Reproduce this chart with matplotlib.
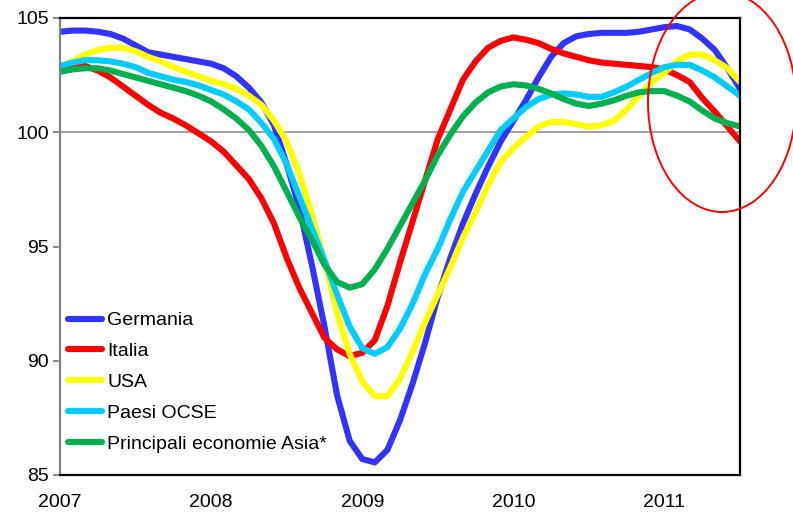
import numpy as np
import matplotlib
matplotlib.use('Agg')
from matplotlib import pyplot as plt
from matplotlib.patches import Ellipse

plt.rcParams['font.family'] = ['Liberation Sans', 'DejaVu Sans']

# monthly values, Jan 2007 - Jul 2011
germania = [104.4, 104.45, 104.45, 104.4, 104.3, 104.1, 103.8, 103.5, 103.4, 103.3,
            103.2, 103.1, 103.0, 102.8, 102.45, 101.95, 101.3, 100.3, 98.6, 96.7,
            94.2, 91.5, 88.5, 86.5, 85.7, 85.55, 86.1, 87.4, 89.0, 90.8,
            92.8, 94.5, 96.0, 97.3, 98.5, 99.6, 100.5, 101.4, 102.4, 103.3,
            103.9, 104.2, 104.3, 104.35, 104.35, 104.35, 104.4, 104.5, 104.6, 104.65,
            104.5, 104.1, 103.6, 102.8, 101.9]
italia = [102.8, 102.9, 102.9, 102.7, 102.4, 102.0, 101.6, 101.2, 100.85, 100.6,
          100.3, 99.95, 99.6, 99.15, 98.55, 97.95, 97.1, 96.0, 94.5, 93.2,
          92.1, 91.0, 90.5, 90.2, 90.35, 90.9, 92.4, 94.3, 96.1, 97.9,
          99.7, 101.0, 102.3, 103.1, 103.7, 104.0, 104.15, 104.05, 103.9, 103.65,
          103.45, 103.3, 103.15, 103.05, 103.0, 102.95, 102.9, 102.85, 102.75, 102.5,
          102.2, 101.5, 100.9, 100.25, 99.6]
usa = [102.9, 103.1, 103.4, 103.6, 103.7, 103.7, 103.55, 103.3, 103.1, 102.85,
       102.65, 102.45, 102.25, 102.1, 101.9, 101.6, 101.2, 100.5, 99.6, 98.2,
       96.4, 94.4, 92.1, 90.3, 89.1, 88.45, 88.45, 89.2, 90.4, 91.7,
       92.9, 94.1, 95.4, 96.5, 97.7, 98.7, 99.3, 99.8, 100.25, 100.45,
       100.45, 100.35, 100.25, 100.3, 100.5, 101.0, 101.6, 102.2, 102.6, 103.1,
       103.4, 103.4, 103.15, 102.8, 102.2]
ocse = [102.9, 103.05, 103.15, 103.15, 103.1, 103.0, 102.85, 102.6, 102.45, 102.3,
        102.2, 102.05, 101.85, 101.65, 101.35, 101.0, 100.4, 99.7, 98.6, 97.2,
        95.8, 94.4, 92.9, 91.5, 90.55, 90.3, 90.6, 91.4, 92.5, 93.8,
        94.9, 96.2, 97.4, 98.3, 99.2, 100.1, 100.6, 101.1, 101.45, 101.65,
        101.7, 101.65, 101.55, 101.55, 101.75, 102.0, 102.3, 102.6, 102.85, 102.95,
        102.95, 102.7, 102.4, 102.0, 101.6]
asia = [102.65, 102.75, 102.8, 102.8, 102.7, 102.55, 102.4, 102.25, 102.1, 101.95,
        101.8, 101.6, 101.35, 101.0, 100.6, 100.1, 99.4, 98.5, 97.4, 96.3,
        95.3, 94.2, 93.45, 93.2, 93.35, 94.0, 94.9, 95.9, 96.9, 97.9,
        99.0, 99.9, 100.7, 101.3, 101.75, 102.0, 102.1, 102.05, 101.9, 101.7,
        101.45, 101.25, 101.15, 101.25, 101.4, 101.6, 101.75, 101.8, 101.8, 101.6,
        101.35, 100.95, 100.6, 100.4, 100.25]

series = [('Germania', germania, '#3333FF'),
          ('Italia', italia, '#FF0000'),
          ('USA', usa, '#FFFF00'),
          ('Paesi OCSE', ocse, '#00CCFF'),
          ('Principali economie Asia*', asia, '#00B050')]
years = [2007, 2008, 2009, 2010, 2011]

x = 2007 + np.arange(len(germania)) / 12.0

fig = plt.figure(figsize=(7.93, 5.16), dpi=100)
ax = fig.add_axes([60 / 793, 1 - 475 / 516, 680 / 793, 457 / 516])

ax.axhline(100, color='#999999', lw=1.3, zorder=1)
for name, vals, col in series:
    ax.plot(x, vals, color=col, lw=4.4, label=name, solid_capstyle='round',
            solid_joinstyle='round', zorder=2)

ax.set_xlim(2007, 2011.5)
ax.set_ylim(85, 105)
ax.set_yticks([85, 90, 95, 100, 105])
ax.set_xticks(years)
ax.set_xticklabels([str(y) for y in years])
ax.tick_params(axis='y', length=5, width=1.3, color='#808080', pad=3, labelsize=14)
ax.tick_params(axis='x', length=0, pad=14, labelsize=14)

ax.spines['left'].set_color('#808080')
ax.spines['left'].set_linewidth(1.6)
for s in ['top', 'right', 'bottom']:
    ax.spines[s].set_color('black')
    ax.spines[s].set_linewidth(1.6)

ax.legend(loc='upper left', bbox_to_anchor=(0.012, 0.357), frameon=False,
          fontsize=14, handlelength=1.75, handletextpad=0.25, labelspacing=0.68,
          borderpad=0, borderaxespad=0)

fig.add_artist(Ellipse((722 / 793, 1 - 102 / 516), 148 / 793, 220 / 516,
                       transform=fig.transFigure, fill=False, ec='red', lw=1.4))

fig.savefig('out.png', dpi=100)
